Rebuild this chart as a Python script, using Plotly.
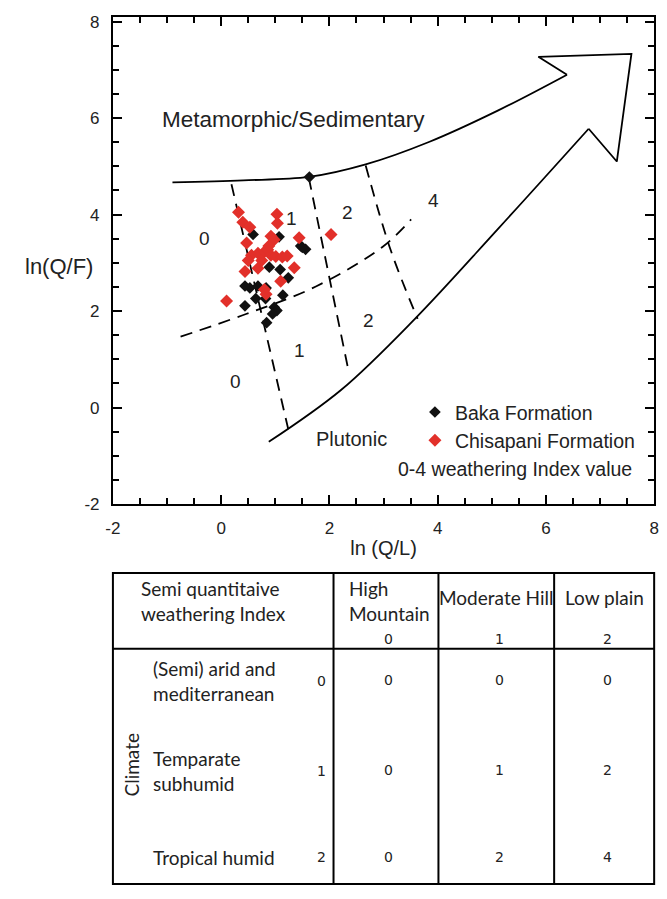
import plotly.graph_objects as go

# ---- sample data: ln(Q/F) vs ln(Q/L) ----
baka_x = [1.63, 0.59, 1.07, 1.47, 1.56, 1.50, 0.89, 1.09, 1.24, 0.53, 0.68, 0.83,
          0.64, 0.82, 1.14, 0.44, 0.98, 1.03, 0.95, 0.84, 0.44]
baka_y = [4.78, 3.59, 3.54, 3.35, 3.28, 3.32, 2.91, 2.86, 2.69, 2.48, 2.52, 2.48,
          2.26, 2.26, 2.33, 2.11, 2.08, 2.01, 1.94, 1.76, 2.52]

chis_x = [0.32, 1.03, 1.04, 0.40, 0.53, 0.47, 0.92, 0.98, 1.44, 2.03, 0.56, 0.68,
          0.80, 0.86, 0.92, 1.01, 1.13, 1.22, 0.44, 0.68, 1.35, 1.10, 0.80, 0.83,
          0.10, 0.75, 0.50, 0.88]
chis_y = [4.05, 4.01, 3.82, 3.84, 3.74, 3.41, 3.55, 3.48, 3.52, 3.59, 3.16, 3.20,
          3.23, 3.27, 3.16, 3.13, 3.12, 3.14, 2.82, 2.89, 2.90, 2.62, 2.45, 2.35,
          2.21, 3.05, 3.05, 3.35]

# ---- field boundaries of the diagram ----
upper_x = [-0.9, 0.41, 1.62, 2.67, 3.85, 5.12, 6.39]
upper_y = [4.67, 4.71, 4.78, 5.04, 5.51, 6.16, 6.90]
lower_x = [0.88, 2.22, 3.58, 5.12, 6.79]
lower_y = [-0.71, 0.37, 1.84, 3.71, 5.78]
arrow_x = [6.39, 5.86, 7.58, 7.31, 6.79]
arrow_y = [6.90, 7.27, 7.33, 5.10, 5.78]

dash1_x = [0.19, 1.24]
dash1_y = [4.63, -0.45]
dash2_x = [1.62, 2.35]
dash2_y = [4.76, 0.78]
dash3_x = [2.67, 3.13, 3.63]
dash3_y = [5.02, 3.27, 1.84]
dash4_x = [-0.75, 0.46, 1.75, 2.98, 3.51]
dash4_y = [1.47, 1.94, 2.51, 3.33, 3.90]

zone_labels = ["0", "1", "2", "4", "0", "1", "2"]
zone_x = [-0.30, 1.30, 2.33, 3.92, 0.27, 1.45, 2.73]
zone_y = [3.51, 3.92, 4.04, 4.29, 0.55, 1.18, 1.80]

x_ticks = [-2, 0, 2, 4, 6, 8]
y_ticks = [-2, 0, 2, 4, 6, 8]
tick_text = ["-2", "0", "2", "4", "6", "8"]

# ---- weathering index table ----
relief_names = ["High<br>Mountain", "Moderate Hill", "Low plain"]
relief_index = ["0", "1", "2"]
climate_names = ["(Semi) arid and<br>mediterranean", "Temparate<br>subhumid", "Tropical humid"]
climate_index = ["0", "1", "2"]
index_values = [["0", "0", "0"],
                ["0", "1", "2"],
                ["0", "2", "4"]]

W, H = 667, 899
FONT = "Liberation Sans, Arial, sans-serif"
TFONT = "Lato, Noto Sans, sans-serif"
NFONT = "DejaVu Sans, Verdana, sans-serif"
INK = "#222222"


def px(x):
    return x / W


def py(y):
    return 1 - y / H


def note(x, y, text, font, xanchor="center", yanchor="middle", **kw):
    return dict(x=px(x), y=py(y), xref="paper", yref="paper", text=text, showarrow=False,
                xanchor=xanchor, yanchor=yanchor, font=font, **kw)


fig = go.Figure()

line_solid = dict(color="black", width=1.8)
line_dash = dict(color="black", width=1.8, dash="12px,8px")

fig.add_trace(go.Scatter(x=upper_x, y=upper_y, mode="lines", line=dict(shape="spline", **line_solid),
                         showlegend=False, hoverinfo="skip"))
fig.add_trace(go.Scatter(x=lower_x, y=lower_y, mode="lines", line=dict(shape="spline", **line_solid),
                         showlegend=False, hoverinfo="skip"))
fig.add_trace(go.Scatter(x=arrow_x, y=arrow_y, mode="lines", line=line_solid,
                         showlegend=False, hoverinfo="skip"))
for dx, dy in [(dash1_x, dash1_y), (dash2_x, dash2_y), (dash3_x, dash3_y), (dash4_x, dash4_y)]:
    fig.add_trace(go.Scatter(x=dx, y=dy, mode="lines", line=dict(shape="spline", **line_dash),
                             showlegend=False, hoverinfo="skip"))

fig.add_trace(go.Scatter(x=baka_x, y=baka_y, mode="markers", name="Baka Formation",
                         marker=dict(symbol="diamond", size=9, color="#111111")))
fig.add_trace(go.Scatter(x=chis_x, y=chis_y, mode="markers", name="Chisapani Formation",
                         marker=dict(symbol="diamond", size=10, color="#e2302a")))

ann = []
for t, x, y in zip(zone_labels, zone_x, zone_y):
    ann.append(dict(x=x, y=y, xref="x", yref="y", text=t, showarrow=False,
                    xanchor="center", yanchor="middle",
                    font=dict(family=FONT, size=19, color=INK)))
ann.append(dict(x=1.33, y=5.97, xref="x", yref="y", text="Metamorphic/Sedimentary",
                xanchor="center", yanchor="middle",
                showarrow=False, font=dict(family=FONT, size=22.5, color=INK)))
ann.append(dict(x=2.40, y=-0.66, xref="x", yref="y", text="Plutonic",
                xanchor="center", yanchor="middle",
                showarrow=False, font=dict(family=FONT, size=20, color=INK)))
ann.append(note(517, 472, "0-4 weathering Index value", dict(family=FONT, size=19.5, color=INK)))
ann.append(note(52, 267, "ln(Q/F)", dict(family=FONT, size=22, color=INK)))

# table outline
T_L, T_R, T_T, T_B = 107, 659, 578, 894
T_HDR = 655
COLS = [332, 439, 557]
shapes = [
    dict(type="rect", xref="paper", yref="paper", x0=px(T_L), x1=px(T_R), y0=py(T_T), y1=py(T_B),
         line=dict(color="black", width=2)),
    dict(type="line", xref="paper", yref="paper", x0=px(T_L), x1=px(T_R), y0=py(T_HDR), y1=py(T_HDR),
         line=dict(color="black", width=2)),
]
for c in COLS:
    shapes.append(dict(type="line", xref="paper", yref="paper", x0=px(c), x1=px(c), y0=py(T_T), y1=py(T_B),
                       line=dict(color="black", width=2)))

tfont = dict(family=TFONT, size=19, color=INK)
nfont = dict(family=NFONT, size=14, color=INK)
ann.append(note(134, 606, "Semi quantitaive<br>weathering Index", tfont, xanchor="left", align="left"))
col_cent = [(COLS[0] + COLS[1]) / 2, (COLS[1] + COLS[2]) / 2, (COLS[2] + T_R) / 2]
ann.append(note(346, 606, relief_names[0], tfont, xanchor="left", align="left"))
ann.append(note(col_cent[1], 603, relief_names[1], tfont))
ann.append(note(col_cent[2], 603, relief_names[2], tfont))
for i, idx in enumerate(relief_index):
    ann.append(note(col_cent[i] + 3, 645, idx, nfont))
row_y = [688, 779, 867]
for r, (name, idx) in enumerate(zip(climate_names, climate_index)):
    ann.append(note(146, row_y[r], name, tfont, xanchor="left", align="left"))
    ann.append(note(320, row_y[r], idx, nfont))
    for c in range(3):
        ann.append(note(col_cent[c] + 3, row_y[r] - 1, index_values[r][c], nfont))
ann.append(note(126, 773, "Climate", tfont, textangle=-90))

axis_common = dict(showline=True, linecolor="black", linewidth=2, mirror="ticks", ticks="inside",
                   ticklen=9, tickwidth=2, tickcolor="black", showgrid=False, zeroline=False,
                   tickmode="array", ticktext=tick_text,
                   tickfont=dict(family=FONT, size=17, color=INK),
                   minor=dict(ticks="inside", ticklen=6, tickwidth=1.5, tickcolor="black", dtick=0.5,
                              tick0=0, showgrid=False))

fig.update_layout(
    width=W, height=H, margin=dict(l=0, r=0, t=0, b=0),
    paper_bgcolor="white", plot_bgcolor="white",
    xaxis=dict(domain=[px(107), px(659)], range=[-2, 8], tickvals=x_ticks, ticklabelstandoff=8,
               title=dict(text="ln (Q/L)", font=dict(family=FONT, size=20, color=INK), standoff=4),
               **axis_common),
    yaxis=dict(domain=[py(508), py(13)], range=[-2, 8.1], tickvals=y_ticks, ticklabelstandoff=8,
               **axis_common),
    legend=dict(x=px(415), y=py(395), xanchor="left", yanchor="top", bgcolor="rgba(0,0,0,0)",
                font=dict(family=FONT, size=19.5, color=INK), itemwidth=30, tracegroupgap=0),
    annotations=ann, shapes=shapes,
)

fig.write_html("out.html")
